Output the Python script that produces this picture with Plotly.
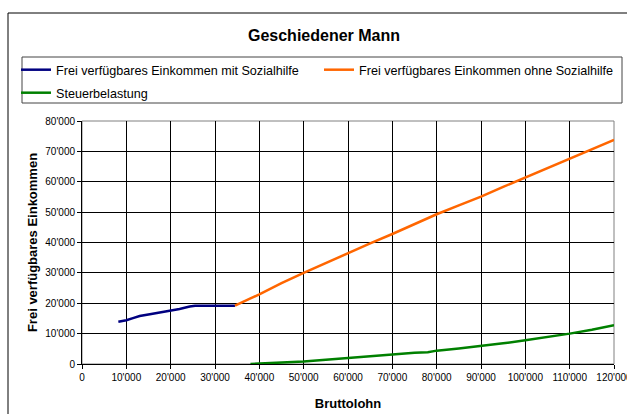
import plotly.graph_objects as go

# ---- data ----
x_mit = [8200, 10000, 11500, 13000, 15300, 17500, 19000, 20200, 22000, 24300, 25500, 30300, 34500]
y_mit = [13900, 14400, 15100, 15800, 16400, 16900, 17400, 17500, 18100, 18900, 19200, 19200, 19200]

x_ohne = [34500, 36000, 38000, 40000, 45000, 50000, 55000, 60000, 65000, 70000, 75000,
          80000, 85000, 90000, 95000, 100000, 105000, 110000, 115000, 120000]
y_ohne = [19200, 20300, 21600, 22900, 26600, 30000, 33300, 36600, 39700, 42800, 46000,
          49300, 52200, 55100, 58300, 61400, 64500, 67700, 70700, 73800]

x_steuer = [38000, 40000, 45000, 50000, 55000, 60000, 65000, 70000, 75000, 78000, 80000,
            85000, 90000, 95000, 100000, 105000, 110000, 115000, 120000]
y_steuer = [0, 100, 400, 800, 1400, 2000, 2600, 3300, 3700, 3900, 4400,
            5100, 5900, 6800, 7800, 8800, 10000, 11300, 12800]

x_ticks = list(range(0, 120001, 10000))
x_ticktext = ["0", "10'000", "20'000", "30'000", "40'000", "50'000", "60'000",
              "70'000", "80'000", "90'000", "100'000", "110'000", "120'000"]
y_ticks = list(range(0, 80001, 10000))
y_ticktext = ["0", "10'000", "20'000", "30'000", "40'000", "50'000", "60'000", "70'000", "80'000"]

names = ["Frei verfügbares Einkommen mit Sozialhilfe",
         "Frei verfügbares Einkommen ohne Sozialhilfe",
         "Steuerbelastung"]
colors = ["#000080", "#FF6600", "#008000"]

FONT = "Arial, 'Liberation Sans', sans-serif"
W, H = 627, 414
L, R, T, B = 82, 13, 121, 50
PW, PH = W - L - R, H - T - B

def px_x(p):
    return (p - L) / PW

def px_y(p):
    return (H - B - p) / PH

fig = go.Figure()
fig.add_trace(go.Scatter(x=x_mit, y=y_mit, mode="lines", name=names[0],
                         line=dict(color=colors[0], width=2.5), legend="legend", showlegend=True))
fig.add_trace(go.Scatter(x=x_ohne, y=y_ohne, mode="lines", name=names[1],
                         line=dict(color=colors[1], width=2.5), legend="legend2", showlegend=True))
fig.add_trace(go.Scatter(x=x_steuer, y=y_steuer, mode="lines", name=names[2],
                         line=dict(color=colors[2], width=2.5), legend="legend3", showlegend=True))

legend_common = dict(xanchor="left", yanchor="middle", borderwidth=0,
                     bgcolor="rgba(0,0,0,0)", font=dict(family=FONT, size=12.6, color="#000"),
                     xref="paper", yref="paper", visible=True)

fig.update_layout(
    width=W, height=H,
    showlegend=True,
    margin=dict(l=L, r=R, t=T, b=B, autoexpand=False),
    paper_bgcolor="white", plot_bgcolor="white",
    font=dict(family=FONT, color="#000"),
    title=dict(text="<b>Geschiedener Mann</b>", font=dict(family=FONT, size=16, color="#000"),
               x=px_x(324), xref="paper", xanchor="center",
               y=1 - 35 / H, yref="container", yanchor="middle"),
    legend=dict(x=px_x(16), y=px_y(70), **legend_common),
    legend2=dict(x=px_x(319), y=px_y(70), **legend_common),
    legend3=dict(x=px_x(16), y=px_y(93), **legend_common),
    xaxis=dict(range=[0, 120000], tickvals=x_ticks, ticktext=x_ticktext,
               showgrid=True, gridcolor="#000", gridwidth=1, zeroline=False,
               showline=True, linecolor="#000", linewidth=1,
               ticks="outside", ticklen=4, tickcolor="#000",
               tickfont=dict(family=FONT, size=10, color="#000"),
               ticklabeloverflow="allow",
               title=dict(text="<b>Bruttolohn</b>", font=dict(family=FONT, size=13, color="#000"),
                          standoff=16),
               automargin=False, fixedrange=True),
    yaxis=dict(range=[0, 80000], tickvals=y_ticks, ticktext=y_ticktext,
               showgrid=True, gridcolor="#000", gridwidth=1, zeroline=False,
               showline=True, linecolor="#000", linewidth=1,
               ticks="outside", ticklen=4, tickcolor="#000",
               tickfont=dict(family=FONT, size=10, color="#000"),
               ticklabeloverflow="allow",
               title=dict(text="<b>Frei verfügbares Einkommen</b>",
                          font=dict(family=FONT, size=13, color="#000"), standoff=4),
               automargin=False, fixedrange=True),
    shapes=[
        # outer chart border
        dict(type="rect", xref="paper", yref="paper", x0=px_x(8), x1=1.2, y0=-0.4, y1=px_y(13),
             line=dict(color="#000", width=1), layer="below"),
        # legend box
        dict(type="rect", xref="paper", yref="paper", x0=px_x(22), x1=px_x(622),
             y0=px_y(103), y1=px_y(57), line=dict(color="#444", width=1), layer="below"),
        # plot-area frame
        dict(type="rect", xref="paper", yref="paper", x0=0, x1=1, y0=0, y1=1,
             line=dict(color="#808080", width=1), layer="below"),
    ],
)

fig.write_html("out.html", config={"displayModeBar": False},
               post_script="document.body.style.margin='0';document.body.style.overflow='hidden';")
